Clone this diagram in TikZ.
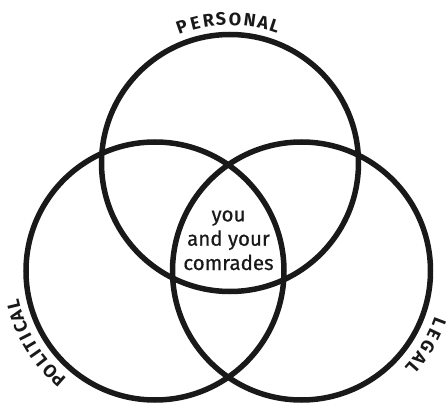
\documentclass[tikz,border=0pt]{standalone}
\usepackage{fontspec}
\setmainfont{Fira Sans}
\newfontfamily\midfont{Fira Sans}[FakeBold=0.6]
\newcommand{\lblsize}{\fontsize{18}{20}\selectfont\bfseries}
\tikzset{
  ring/.style={draw=black!90, line width=5.5pt},
  lbl/.style={font=\lblsize, inner sep=0pt, text=black!90},
  mid/.style={font=\midfont\fontsize{20.5}{24.3}\selectfont, align=center, inner sep=0pt, text=black!90}
}
\begin{document}
\begin{tikzpicture}[x=1pt,y=1pt]
\useasboundingbox (0,0) rectangle (448,-404);
\coordinate (ct) at (230,-163);
\coordinate (cl) at (155,-271);
\coordinate (cr) at (301.5,-271);
\draw[ring] (ct) circle (128.5);
\draw[ring] (cl) circle (129);
\draw[ring] (cr) circle (129);
\node[mid] (core) at (228.5,-240.3) {you\\and your\\comrades};
\foreach \l/\a [count=\i] in {P/109.5,E/104,R/98.6,S/93.6,O/88,N/82.1,A/76.7,L/71.9}
  \node[lbl, rotate=\a-90] (per\i) at ([shift={(\a:144)}]ct) {\l};
\foreach \l/\a [count=\i] in {P/228.4,O/223.8,L/218.2,I/214.8,T/211,I/207.1,C/202.7,A/198.3,L/193.5}
  \node[lbl, rotate=\a-90] (pol\i) at ([shift={(\a:145.5)}]cl) {\l};
\foreach \l/\a [count=\i] in {L/-20.7,E/-25.6,G/-30.9,A/-36.4,L/-41.3}
  \node[lbl, rotate=\a-90] (leg\i) at ([shift={(\a:147)}]cr) {\l};
\end{tikzpicture}
\end{document}
